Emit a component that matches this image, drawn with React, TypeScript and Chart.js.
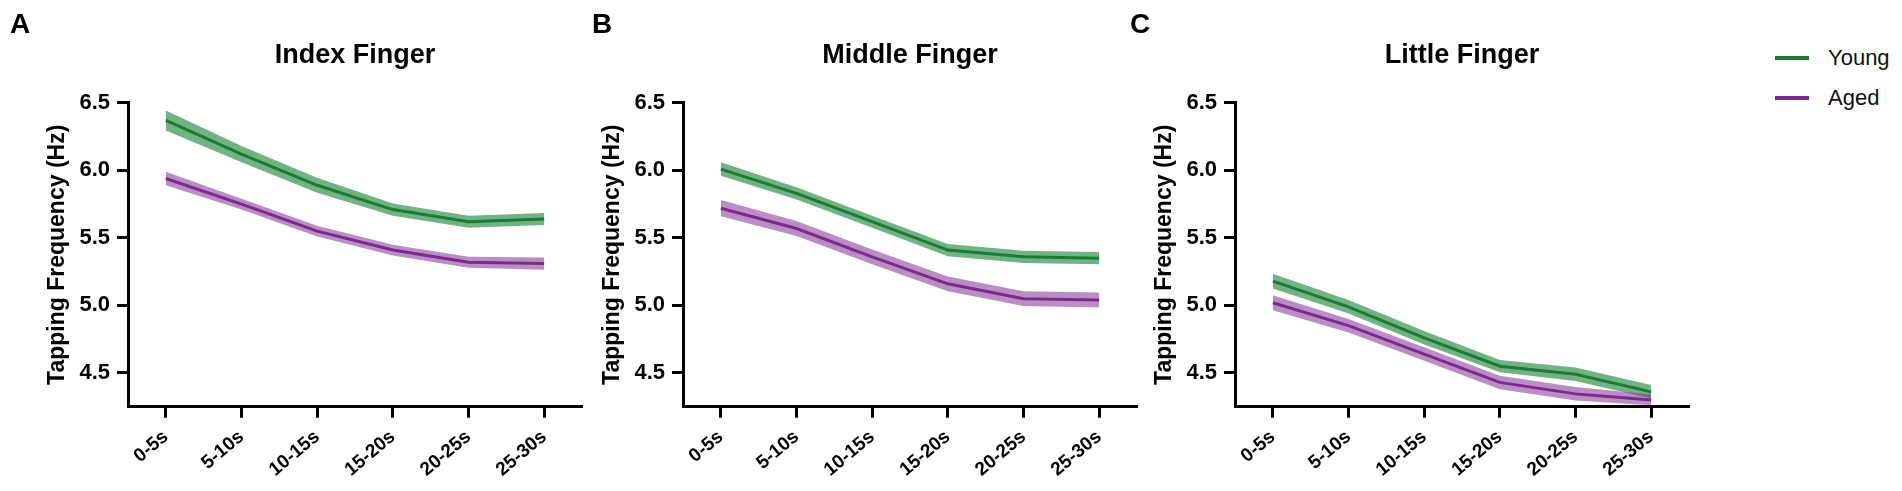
import React, { useEffect, useRef } from 'react';
import { Chart, registerables } from 'chart.js';

Chart.register(...registerables);

const timeBins = ['0-5s', '5-10s', '10-15s', '15-20s', '20-25s', '25-30s'];
const yTickValues = [4.5, 5.0, 5.5, 6.0, 6.5];

// Index finger
const indexYoung = [6.37, 6.12, 5.89, 5.71, 5.62, 5.64];
const indexYoungSem = [0.074, 0.06, 0.055, 0.045, 0.045, 0.045];
const indexAged = [5.94, 5.75, 5.55, 5.41, 5.32, 5.31];
const indexAgedSem = [0.05, 0.04, 0.04, 0.04, 0.04, 0.045];

// Middle finger
const middleYoung = [6.01, 5.83, 5.62, 5.41, 5.36, 5.35];
const middleYoungSem = [0.05, 0.045, 0.045, 0.045, 0.045, 0.045];
const middleAged = [5.72, 5.57, 5.36, 5.16, 5.05, 5.04];
const middleAgedSem = [0.06, 0.055, 0.055, 0.055, 0.055, 0.055];

// Little finger
const littleYoung = [5.18, 4.99, 4.76, 4.55, 4.49, 4.36];
const littleYoungSem = [0.055, 0.05, 0.05, 0.045, 0.05, 0.05];
const littleAged = [5.02, 4.85, 4.64, 4.43, 4.345, 4.3];
const littleAgedSem = [0.055, 0.05, 0.05, 0.05, 0.05, 0.04];

const FONT = '"Liberation Sans", Arial, Helvetica, sans-serif';
const YOUNG_LINE = '#1c7a36';
const YOUNG_BAND = 'rgba(60, 150, 85, 0.72)';
const AGED_LINE = '#7a2a8c';
const AGED_BAND = 'rgba(130, 50, 150, 0.55)';

type PanelProps = {
  title: string;
  young: number[];
  youngSem: number[];
  aged: number[];
  agedSem: number[];
  left: number;
};

const FingerPanel: React.FC<PanelProps> = ({ title, young, youngSem, aged, agedSem, left }) => {
  const canvasRef = useRef<HTMLCanvasElement>(null);

  useEffect(() => {
    if (!canvasRef.current) return;
    const ctx = canvasRef.current.getContext('2d');
    if (!ctx) return;

    // SEM band edges
    const upper = (m: number[], s: number[]) => m.map((v, i) => v + s[i]);
    const lower = (m: number[], s: number[]) => m.map((v, i) => v - s[i]);

    const band = { borderWidth: 0, borderColor: 'transparent', pointRadius: 0 };
    const axisGrid = {
      display: true,
      drawOnChartArea: false,
      drawTicks: true,
      tickLength: 11,
      tickWidth: 3,
      tickColor: '#000',
    };
    const axisBorder = { display: true, color: '#000', width: 3 };

    const chart = new Chart(ctx, {
      type: 'line',
      data: {
        labels: timeBins,
        datasets: [
          { label: 'Aged', data: aged, borderColor: AGED_LINE, borderWidth: 3, pointRadius: 0, fill: false },
          { label: 'Young', data: young, borderColor: YOUNG_LINE, borderWidth: 3, pointRadius: 0, fill: false },
          { label: 'Aged upper', data: upper(aged, agedSem), ...band, backgroundColor: AGED_BAND, fill: '+1' },
          { label: 'Aged lower', data: lower(aged, agedSem), ...band, fill: false },
          { label: 'Young upper', data: upper(young, youngSem), ...band, backgroundColor: YOUNG_BAND, fill: '+1' },
          { label: 'Young lower', data: lower(young, youngSem), ...band, fill: false },
        ],
      },
      options: {
        animation: false,
        responsive: true,
        maintainAspectRatio: false,
        layout: { padding: { left: 0, right: 18, top: 0, bottom: 0 } },
        elements: { line: { tension: 0 } },
        plugins: {
          legend: { display: false },
          tooltip: { enabled: false },
          title: {
            display: true,
            text: title,
            fullSize: false,
            color: '#000',
            font: { family: FONT, size: 27, weight: 'bold' },
            padding: { top: 39, bottom: 31.5 },
          },
        },
        scales: {
          x: {
            type: 'category',
            offset: true,
            grid: { ...axisGrid, offset: false },
            border: axisBorder,
            ticks: {
              color: '#000',
              font: { family: FONT, size: 19, weight: 'bold' },
              minRotation: 40,
              maxRotation: 40,
              autoSkip: false,
              padding: 8,
            },
            afterFit: (scale: any) => {
              scale.height = 84.3;
            },
          },
          y: {
            min: 4.25,
            max: 6.5,
            grid: axisGrid,
            border: axisBorder,
            ticks: {
              color: '#000',
              font: { family: FONT, size: 22, weight: 'bold' },
              padding: 7,
              callback: (v: any) => Number(v).toFixed(1),
            },
            afterBuildTicks: (scale: any) => {
              scale.ticks = yTickValues.map((v) => ({ value: v }));
            },
            afterFit: (scale: any) => {
              scale.width = 128;
            },
            title: {
              display: true,
              text: 'Tapping Frequency (Hz)',
              color: '#000',
              font: { family: FONT, size: 23, weight: 'bold' },
              padding: { top: 44, bottom: 0 },
            },
          },
        },
      },
    } as any);

    return () => {
      chart.destroy();
    };
  }, [title, young, youngSem, aged, agedSem]);

  return (
    <div style={{ position: 'absolute', left, top: 0, width: 600, height: 491 }}>
      <canvas ref={canvasRef}></canvas>
    </div>
  );
};

const letterStyle: React.CSSProperties = {
  position: 'absolute',
  top: 10,
  fontFamily: FONT,
  fontWeight: 'bold',
  fontSize: 28,
  lineHeight: '28px',
  color: '#000',
};

const legendText: React.CSSProperties = {
  position: 'absolute',
  left: 1828,
  fontFamily: FONT,
  fontSize: 22,
  lineHeight: '22px',
  color: '#111',
};

export default function App() {
  return (
    <div
      style={{
        position: 'absolute',
        left: 0,
        top: 0,
        width: 1902,
        height: 491,
        background: '#fff',
        overflow: 'hidden',
      }}
    >
      <FingerPanel title="Index Finger" young={indexYoung} youngSem={indexYoungSem} aged={indexAged} agedSem={indexAgedSem} left={0} />
      <FingerPanel title="Middle Finger" young={middleYoung} youngSem={middleYoungSem} aged={middleAged} agedSem={middleAgedSem} left={555} />
      <FingerPanel title="Little Finger" young={littleYoung} youngSem={littleYoungSem} aged={littleAged} agedSem={littleAgedSem} left={1107} />

      <div style={{ ...letterStyle, left: 10 }}>A</div>
      <div style={{ ...letterStyle, left: 592 }}>B</div>
      <div style={{ ...letterStyle, left: 1130 }}>C</div>

      <div style={{ position: 'absolute', left: 1775, top: 56, width: 34, height: 4, background: YOUNG_LINE }} />
      <div style={{ ...legendText, top: 47 }}>Young</div>
      <div style={{ position: 'absolute', left: 1775, top: 96, width: 34, height: 4, background: AGED_LINE }} />
      <div style={{ ...legendText, top: 87 }}>Aged</div>
    </div>
  );
}
